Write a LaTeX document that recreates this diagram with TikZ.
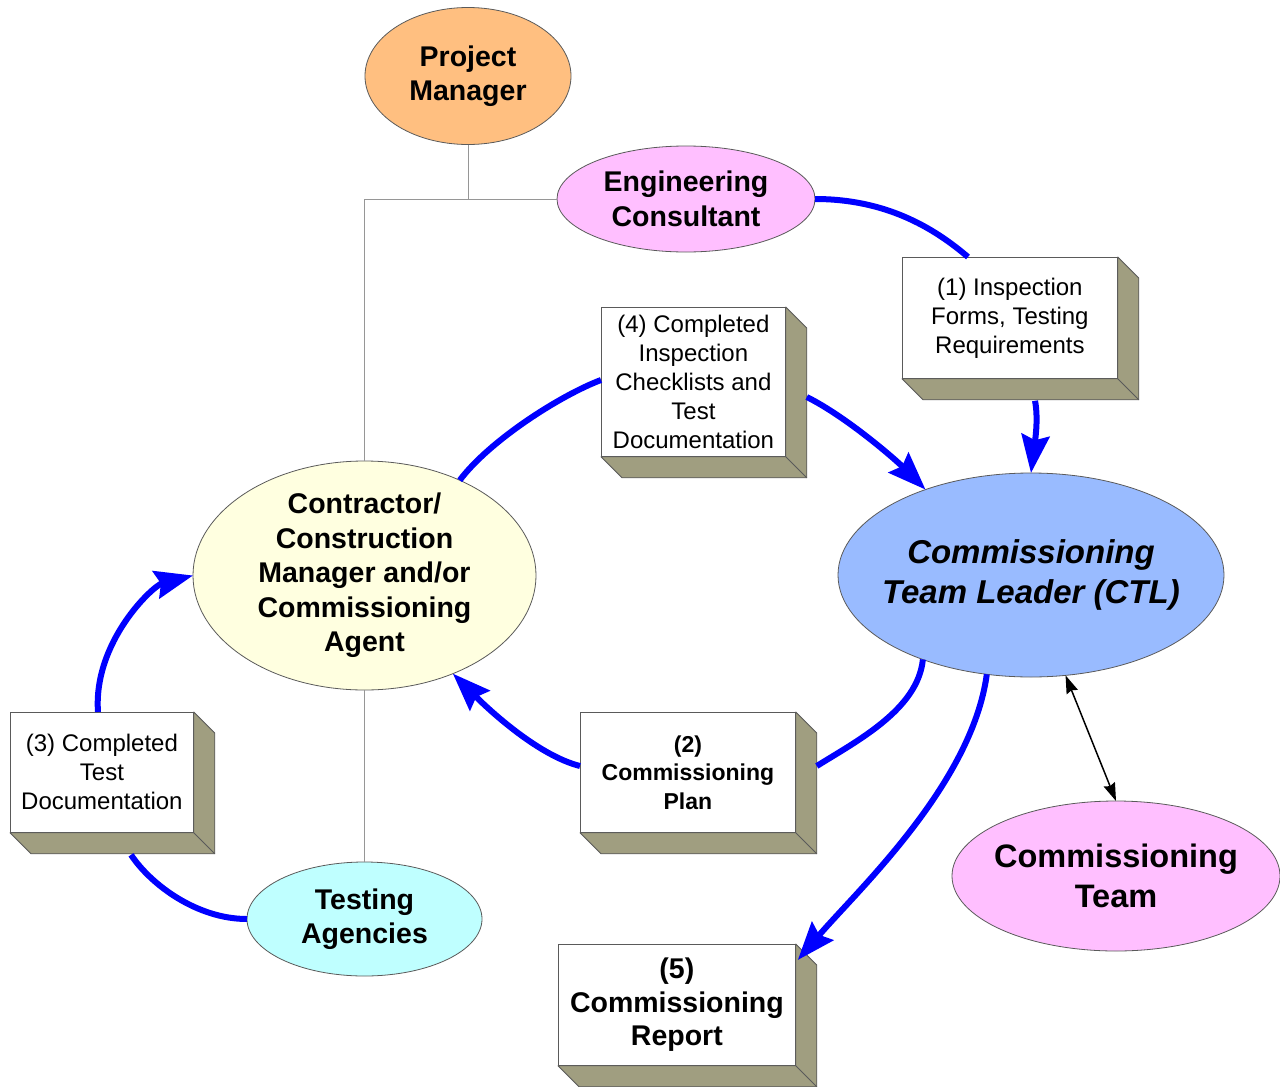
\documentclass[tikz,border=0pt]{standalone}
\usepackage{fontspec}
\setmainfont{Liberation Sans}
\usetikzlibrary{arrows.meta,calc,shapes.geometric}

\definecolor{pmorange}{RGB}{255,191,128}
\definecolor{pinkfill}{RGB}{255,191,255}
\definecolor{yellowfill}{RGB}{255,255,224}
\definecolor{bluefill}{RGB}{153,187,255}
\definecolor{cyanfill}{RGB}{191,255,255}
\definecolor{sidefill}{RGB}{160,158,128}
\definecolor{edgegray}{RGB}{90,90,90}
\definecolor{linegray}{RGB}{150,150,150}

\tikzset{
 oval/.style={ellipse, draw=edgegray, line width=0.8pt, inner sep=0pt, outer sep=0pt},
 boxfront/.style={rectangle, draw=edgegray, fill=white, line width=0.8pt, inner sep=0pt, align=center, anchor=north west},
 boxside/.style={fill=sidefill, draw=edgegray, line width=0.8pt, line join=round},
 flow/.style={draw=blue, line width=6pt},
 flowarrow/.style={flow, -{Stealth[length=38pt,width=28pt,inset=5pt]}},
 orgline/.style={draw=linegray, line width=1pt},
 regtext/.style={font=\fontsize{24}{29}\selectfont},
 boldbig/.style={align=center, font=\bfseries\fontsize{28.5}{34.5}\selectfont},
 boldhuge/.style={align=center, font=\bfseries\fontsize{32.5}{40}\selectfont},
 bolditalic/.style={align=center, font=\bfseries\itshape\fontsize{33}{40}\selectfont},
}
\newcommand\sidebox[1]{%
  \path[boxside] (#1.north east) -- ++(21,21) -- ($(#1.south east)+(21,21)$) -- ($(#1.south west)+(21,21)$) -- (#1.south west) -- (#1.south east) -- cycle;
  \draw[edgegray, line width=0.8pt] (#1.south east) -- ++(21,21);}

\begin{document}
\begin{tikzpicture}[x=1pt,y=-1pt]
\useasboundingbox (0,0) rectangle (1280,1087);

% ellipses
\node[oval, fill=pmorange, minimum width=206pt, minimum height=137pt, label={[boldbig]center:Project\\Manager}] (pm) at (468,76) {};
\node[oval, fill=pinkfill, minimum width=258pt, minimum height=106pt, label={[boldbig]center:Engineering\\Consultant}] (ec) at (686,199) {};
\node[oval, fill=yellowfill, minimum width=343pt, minimum height=229pt, label={[boldbig]center:Contractor/\\Construction\\Manager and/or\\Commissioning\\Agent}] (con) at (364.5,575.5) {};
\node[oval, fill=bluefill, minimum width=386pt, minimum height=204pt, label={[bolditalic]center:Commissioning\\Team Leader (CTL)}] (ctl) at (1031,575) {};
\node[oval, fill=pinkfill, minimum width=328pt, minimum height=150pt, label={[boldhuge]center:Commissioning\\Team}] (team) at (1116,876) {};
\node[oval, fill=cyanfill, minimum width=235pt, minimum height=114pt, label={[boldbig]center:Testing\\Agencies}] (ta) at (364.5,919) {};

% org lines
\coordinate (junc) at (pm.south |- ec.west);
\coordinate (corner) at (con.north |- ec.west);
\draw[orgline] (pm.south) -- (junc);
\draw[orgline] (ec.west) -- (corner) -- (con.north);
\draw[orgline] (con.south) -- (ta.north);

% boxes
\node[boxfront, minimum width=215pt, minimum height=121pt, regtext] (b1) at (902,257) {(1) Inspection\\Forms, Testing\\Requirements};
\sidebox{b1}
\node[boxfront, minimum width=184pt, minimum height=149pt, regtext] (b4) at (601,307) {(4) Completed\\Inspection\\Checklists and\\Test\\Documentation};
\sidebox{b4}
\node[boxfront, minimum width=183pt, minimum height=120pt, regtext] (b3) at (10,712) {(3) Completed\\Test\\Documentation};
\sidebox{b3}
\node[boxfront, minimum width=215pt, minimum height=120pt, font=\bfseries\fontsize{23}{28.5}\selectfont] (b2) at (580,712) {(2)\\Commissioning\\Plan};
\sidebox{b2}
\node[boxfront, minimum width=237pt, minimum height=121pt, font=\bfseries\fontsize{28.5}{33.5}\selectfont] (b5) at (558,944) {(5)\\Commissioning\\Report};
\sidebox{b5}

% blue flows
\draw[flow] (ec.east) .. controls +(70,0) and +(-35,-30) .. ($(b1.north west)+(66,0)$);
\draw[flowarrow] ($(b1.south west)+(133,22)$) .. controls +(4,20) and +(3,-25) .. (ctl.north);
\draw[flowarrow] ($(b4.north east)+(21,90)$) .. controls +(40,20) and +(-30,-30) .. (ctl.141);
\draw[flow] (con.45) .. controls +(30,-40) and +(-40,15) .. ($(b4.north west)+(0,73)$);
\draw[flow] (ctl.218) .. controls +(-5,50) and +(40,-25) .. ($(b2.north east)+(21,54)$);
\draw[flowarrow] ($(b2.north west)+(0,54)$) .. controls +(-40,-10) and +(40,40) .. (con.-48);
\draw[flow] (ta.west) .. controls +(-50,0) and +(20,30) .. ($(b3.south west)+(121,22)$);
\draw[flowarrow] ($(b3.north west)+(88,0)$) .. controls +(-5,-70) and +(-40,10) .. (con.west);
\draw[flowarrow] (ctl.-114) .. controls +(-15,110) and +(60,-70) .. ($(b5.north east)+(2,16)$);

% black double arrow
\draw[line width=1.5pt, {Stealth[length=18pt,width=12pt,inset=2pt]}-{Stealth[length=18pt,width=12pt,inset=2pt]}] (ctl.-71) -- (team.north);
\end{tikzpicture}
\end{document}
